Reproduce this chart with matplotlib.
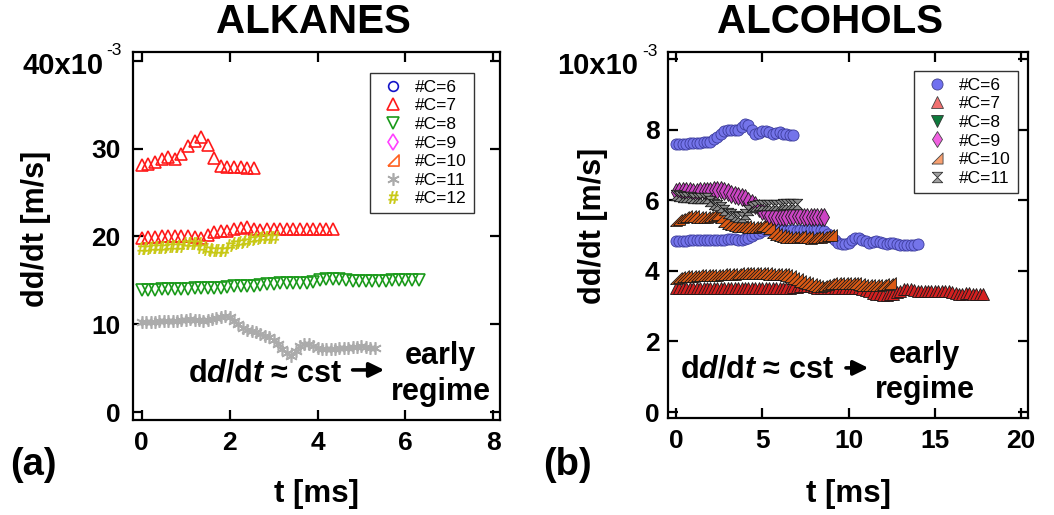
import numpy as np
import matplotlib
matplotlib.use("Agg")
import matplotlib.pyplot as plt
from matplotlib.lines import Line2D

plt.rcParams['font.family'] = ['Liberation Sans', 'DejaVu Sans']
plt.rcParams['mathtext.fontset'] = 'custom'
plt.rcParams['mathtext.rm'] = 'Liberation Sans:bold'
plt.rcParams['mathtext.it'] = 'Liberation Sans:italic:bold'
plt.rcParams['mathtext.bf'] = 'Liberation Sans:bold'

# ---- (a) alkanes, dd/dt in 1e-3 m/s ----
alk_c7a_dt = 0.15
alk_c7a = [28.1, 28.2, 28.5, 28.8, 29.0, 28.8, 29.4, 30.3, 30.9, 31.3, 30.4, 28.9,
           28.0, 27.9, 27.9, 27.9, 27.8, 27.8]
alk_c7b_dt = 0.15
alk_c7b = [19.8, 19.9, 19.9, 20.0, 20.0, 20.0, 20.1, 20.0, 19.9, 19.8, 20.2, 20.5,
           20.6, 20.6, 20.8, 21.0, 21.1, 20.9, 20.7, 20.8, 20.9, 20.8, 20.8, 20.9,
           20.8, 20.8, 20.9, 20.9, 20.8, 20.9]
alk_c8_dt = 0.15
alk_c8 = [13.9, 13.9, 13.9, 14.0, 14.0, 14.0, 14.0, 14.0, 14.1, 14.1, 14.1, 14.1,
          14.1, 14.2, 14.4, 14.4, 14.4, 14.4, 14.5, 14.6, 14.6, 14.7, 14.7, 14.7,
          14.7, 14.7, 14.8, 15.0, 15.1, 15.1, 15.1, 15.0, 14.9, 14.9, 14.9, 14.9,
          14.9, 14.9, 15.0, 15.0, 15.0, 15.0, 15.0]
alk_c11_dt = 0.1
alk_c11 = [10.3, 10.3, 10.3, 10.3, 10.4, 10.4, 10.4, 10.4, 10.4, 10.5, 10.5, 10.6,
           10.5, 10.5, 10.4, 10.5, 10.6, 10.7, 10.8, 10.9, 10.8, 10.4, 10.0, 9.6,
           9.3, 9.2, 9.1, 8.9, 8.7, 8.5, 8.2, 7.8, 7.2, 6.7, 6.4, 7.0, 7.5, 7.8,
           7.7, 7.5, 7.3, 7.2, 7.2, 7.2, 7.2, 7.3, 7.3, 7.3, 7.4, 7.4, 7.5, 7.4,
           7.3, 7.3]
alk_c12_dt = 0.125
alk_c12 = [18.7, 18.7, 18.8, 18.8, 18.8, 18.9, 18.9, 18.9, 19.2, 19.3, 19.2, 18.8,
           18.6, 18.4, 18.4, 18.5, 19.0, 19.3, 19.4, 19.5, 19.7, 19.8, 19.9, 19.9,
           19.9]

# ---- (b) alcohols, dd/dt in 1e-3 m/s, sampled every 0.2 ms ----
alc_dt = 0.2
alc_c6a = [7.6, 7.6, 7.6, 7.6, 7.62, 7.62, 7.63, 7.63, 7.64, 7.65, 7.66, 7.72,
           7.8, 7.88, 7.95, 8.0, 8.0, 7.98, 8.0, 8.08, 8.15, 8.12, 7.98, 7.88,
           7.9, 7.95, 7.96, 7.92, 7.88, 7.9, 7.92, 7.88, 7.86, 7.85, 7.85]
alc_c6b = [4.85, 4.85, 4.85, 4.85, 4.86, 4.86, 4.86, 4.87, 4.87, 4.88, 4.88, 4.87,
           4.87, 4.88, 4.88, 4.89, 4.9, 4.9, 4.88, 4.88, 4.9, 4.93, 4.98, 5.03,
           5.08, 5.12, 5.15, 5.17, 5.18, 5.18, 5.17, 5.15, 5.14, 5.15, 5.15, 5.14,
           5.15, 5.16, 5.17, 5.18, 5.18, 5.17, 5.15, 5.12, 5.05, 4.95, 4.87, 4.8,
           4.76, 4.76, 4.8, 4.88, 4.93, 4.93, 4.88, 4.83, 4.8, 4.82, 4.84, 4.82,
           4.78, 4.77, 4.8, 4.8, 4.75, 4.72, 4.72, 4.73, 4.74, 4.74, 4.75]
alc_c7 = [3.5] * 31 + [3.51, 3.52, 3.52, 3.53, 3.54,
          3.56, 3.58, 3.58, 3.57, 3.55, 3.52, 3.5, 3.5, 3.5, 3.5, 3.5, 3.5, 3.5,
          3.5, 3.5, 3.5, 3.5, 3.5, 3.49, 3.46, 3.42, 3.38, 3.35, 3.33, 3.32, 3.32,
          3.33, 3.35, 3.4, 3.44, 3.47, 3.48, 3.47, 3.45, 3.44, 3.43, 3.42, 3.42,
          3.42, 3.42, 3.43, 3.44, 3.44, 3.43, 3.4, 3.37, 3.35, 3.35, 3.36, 3.36,
          3.35, 3.35, 3.35, 3.35]
alc_c9 = [6.24, 6.25, 6.26, 6.26, 6.25, 6.24, 6.24, 6.25, 6.25, 6.26, 6.27, 6.28,
          6.3, 6.3, 6.27, 6.22, 6.17, 6.14, 6.12, 6.1, 6.05, 5.98, 5.92, 5.85,
          5.78, 5.7, 5.63, 5.58, 5.55, 5.53, 5.52, 5.52, 5.53, 5.54, 5.55, 5.55,
          5.54, 5.53, 5.52, 5.52, 5.52, 5.52, 5.52, 5.52]
alc_c10a = [5.45, 5.48, 5.52, 5.55, 5.55, 5.54, 5.53, 5.52, 5.52, 5.53, 5.55, 5.58,
            5.6, 5.52, 5.42, 5.35, 5.32, 5.3, 5.28, 5.27, 5.26, 5.25, 5.24, 5.25,
            5.28, 5.3, 5.28, 5.2, 5.1, 5.03, 5.0, 4.98, 4.96, 4.95, 4.95, 4.97,
            4.98, 4.97, 4.95, 4.94, 4.95, 4.96, 4.97, 4.98, 5.0, 5.0]
alc_c10b = [3.8, 3.82, 3.84, 3.85, 3.86, 3.86, 3.87, 3.87, 3.88, 3.88, 3.88, 3.89,
            3.89, 3.9, 3.9, 3.9, 3.91, 3.92, 3.93, 3.94, 3.95, 3.95, 3.95, 3.95,
            3.95, 3.94, 3.93, 3.92, 3.92, 3.92, 3.91, 3.9, 3.88, 3.85, 3.8, 3.76,
            3.72, 3.68, 3.66, 3.63, 3.6, 3.58, 3.58, 3.6, 3.62, 3.64, 3.65, 3.65,
            3.66, 3.66, 3.66, 3.65, 3.64, 3.62, 3.61, 3.6, 3.6, 3.6, 3.6, 3.61,
            3.62, 3.63, 3.64]
alc_c11 = [6.15, 6.12, 6.1, 6.1, 6.08, 6.06, 6.05, 6.05, 6.06, 6.05, 5.98, 5.9,
           5.85, 5.8, 5.72, 5.65, 5.6, 5.55, 5.52, 5.52, 5.6, 5.72, 5.8, 5.84,
           5.85, 5.86, 5.86, 5.85, 5.85, 5.86, 5.87, 5.88, 5.88, 5.88, 5.88, 5.88]

alk_labels = ['#C=6', '#C=7', '#C=8', '#C=9', '#C=10', '#C=11', '#C=12']
alc_labels = ['#C=6', '#C=7', '#C=8', '#C=9', '#C=10', '#C=11']


def times(vals, dt):
    return dt * np.arange(len(vals))


rtri = [(-1, -1), (1, -1), (1, 1), (-1, -1)]
hourglass = [(-1, 1), (1, 1), (-1, -1), (1, -1), (-1, 1)]

fig = plt.figure(figsize=(10.54, 5.15), dpi=100)
ax1 = fig.add_axes([0.1262, 0.1845, 0.348, 0.7145])
ax2 = fig.add_axes([0.6338, 0.1883, 0.3416, 0.711])

leg_kw = dict(fontsize=12.5, frameon=True, fancybox=False, edgecolor='black',
              borderpad=0.4, labelspacing=0.2, handletextpad=0.4, handlelength=1.8,
              borderaxespad=0)
arrow_kw = dict(arrowstyle='-|>,head_length=0.45,head_width=0.22', lw=2.6,
                color='black', shrinkA=0, shrinkB=0, mutation_scale=20)

# ---------- panel (a) ----------
open_kw = dict(ls='none', mfc='none', mew=1.2)
ax1.plot([], [], marker='o', color='#1414c8', ms=7, label=alk_labels[0], **open_kw)
ax1.plot(times(alk_c7a, alk_c7a_dt), alk_c7a, marker='^', color='#ff1a1a', ms=8.5,
         label=alk_labels[1], **open_kw)
ax1.plot(times(alk_c7b, alk_c7b_dt), alk_c7b, marker='^', color='#ff1a1a', ms=8.5,
         label='_nolegend_', **open_kw)
ax1.plot(times(alk_c8, alk_c8_dt), alk_c8, marker='v', color='#1a9a1a', ms=8.5,
         label=alk_labels[2], **open_kw)
ax1.plot([], [], marker='d', color='#ff40ff', ms=8, label=alk_labels[3], **open_kw)
ax1.plot([], [], marker=rtri, color='#ff6020', ms=8, label=alk_labels[4], **open_kw)
ax1.plot(times(alk_c11, alk_c11_dt), alk_c11, marker=(6, 2, 0), color='#ababab', ms=9,
         label=alk_labels[5], ls='none', mew=1.2)
ax1.plot(times(alk_c12, alk_c12_dt), alk_c12, marker='$\\#$', color='#c8c814', ms=9,
         label=alk_labels[6], ls='none', mew=0.3)

ax1.set_xlim(-0.2, 8.15)
ax1.set_ylim(-0.9, 41)
ax1.set_xticks([0, 2, 4, 6, 8])
ax1.set_yticks([0, 10, 20, 30, 40])
ax1.set_yticklabels(['0', '10', '20', '30', ''])
leg1 = ax1.legend(loc='upper right', bbox_to_anchor=(0.929, 0.944), **leg_kw)
leg1.get_frame().set_linewidth(1.0)

ax1.text(1.05, 3.5, r'd$\mathit{d}$/d$\mathit{t}$ ≈ cst', fontsize=22,
         fontweight='bold', ha='left', va='baseline')
ax1.annotate('', xy=(5.52, 4.8), xytext=(4.8, 4.8), arrowprops=arrow_kw)
ax1.text(6.8, 4.3, 'early\nregime', fontsize=22, fontweight='bold',
         ha='center', va='center', linespacing=1.25)

# ---------- panel (b) ----------
ekw = dict(ls='none', mec='#1a1a1a', mew=0.6)
ax2.plot(times(alc_c7, alc_dt), alc_c7, marker='^', mfc='#d42020', ms=8.5, **ekw)
ax2.plot(times(alc_c10b, alc_dt), alc_c10b, marker=rtri, mfc='#dc5a14', ms=8.5, **ekw)
ax2.plot(times(alc_c6b, alc_dt), alc_c6b, marker='o', mfc='#7474ea', ms=8,
         ls='none', mec='#3c3c9c', mew=0.6)
ax2.plot(times(alc_c10a, alc_dt), alc_c10a, marker=rtri, mfc='#dc5a14', ms=8.5, **ekw)
ax2.plot(times(alc_c9, alc_dt), alc_c9, marker='d', mfc='#cc44c4', ms=9, **ekw)
ax2.plot(times(alc_c11, alc_dt), alc_c11, marker=hourglass, mfc='#8c8c8c', ms=7.5, **ekw)
ax2.plot(times(alc_c6a, alc_dt), alc_c6a, marker='o', mfc='#7474ea', ms=8,
         ls='none', mec='#3c3c9c', mew=0.6)

alc_handles = [
    Line2D([], [], ls='none', marker='o', mfc='#7070f0', mec='#444488', mew=0.6, ms=8),
    Line2D([], [], ls='none', marker='^', mfc='#f07070', mec='#444444', mew=0.6, ms=8),
    Line2D([], [], ls='none', marker='v', mfc='#0e7a3c', mec='#333333', mew=0.6, ms=8),
    Line2D([], [], ls='none', marker='d', mfc='#f060e0', mec='#444444', mew=0.6, ms=8.5),
    Line2D([], [], ls='none', marker=rtri, mfc='#f8a070', mec='#444444', mew=0.6, ms=8),
    Line2D([], [], ls='none', marker=hourglass, mfc='#a0a0a0', mec='#333333', mew=0.6,
           ms=7.5),
]

ax2.set_xlim(-0.46, 20.4)
ax2.set_ylim(-0.17, 10.2)
ax2.set_xticks([0, 5, 10, 15, 20])
ax2.set_yticks([0, 2, 4, 6, 8, 10])
ax2.set_yticklabels(['0', '2', '4', '6', '8', ''])
leg2 = ax2.legend(alc_handles, alc_labels, loc='upper right',
                  bbox_to_anchor=(0.972, 0.949), **leg_kw)
leg2.get_frame().set_linewidth(1.0)

ax2.text(0.23, 0.97, r'd$\mathit{d}$/d$\mathit{t}$ ≈ cst', fontsize=22,
         fontweight='bold', ha='left', va='baseline')
ax2.annotate('', xy=(11.15, 1.25), xytext=(9.85, 1.25), arrowprops=arrow_kw)
ax2.text(14.4, 1.12, 'early\nregime', fontsize=22, fontweight='bold',
         ha='center', va='center', linespacing=1.25)

for ax, ypad in ((ax1, 9), (ax2, 6)):
    for sp in ax.spines.values():
        sp.set_linewidth(1.6)
    ax.tick_params(direction='in', top=True, right=True, length=7, width=1.6,
                   labelsize=19)
    ax.tick_params(axis='x', pad=8)
    ax.tick_params(axis='y', pad=ypad)
    for lab in ax.get_xticklabels() + ax.get_yticklabels():
        lab.set_fontweight('bold')

# top y-tick labels with the 10^-3 multiplier
ax1.text(-0.079, 0.962, '40x10', transform=ax1.transAxes, fontsize=21,
         fontweight='bold', ha='right', va='center')
ax1.text(-0.073, 1.003, '-3', transform=ax1.transAxes, fontsize=12.5,
         ha='left', va='center')
ax2.text(-0.083, 0.962, '10x10', transform=ax2.transAxes, fontsize=21,
         fontweight='bold', ha='right', va='center')
ax2.text(-0.071, 1.0, '-3', transform=ax2.transAxes, fontsize=12.5,
         ha='left', va='center')

fig.text(313 / 1054, 1 - 22 / 515, 'ALKANES', fontsize=29, fontweight='bold',
         ha='center', va='center')
fig.text(830 / 1054, 1 - 22 / 515, 'ALCOHOLS', fontsize=29, fontweight='bold',
         ha='center', va='center')
fig.text(317 / 1054, 1 - 494 / 515, 't [ms]', fontsize=22.5, fontweight='bold',
         ha='center', va='center')
fig.text(848 / 1054, 1 - 494 / 515, 't [ms]', fontsize=22.5, fontweight='bold',
         ha='center', va='center')
fig.text(36 / 1054, 1 - 229 / 515, 'dd/dt [m/s]', fontsize=22, fontweight='bold',
         ha='center', va='center', rotation=90)
fig.text(593 / 1054, 1 - 226 / 515, 'dd/dt [m/s]', fontsize=22, fontweight='bold',
         ha='center', va='center', rotation=90)
fig.text(33 / 1054, 1 - 465 / 515, '(a)', fontsize=27.5, fontweight='bold',
         ha='center', va='center')
fig.text(567 / 1054, 1 - 465 / 515, '(b)', fontsize=27.5, fontweight='bold',
         ha='center', va='center')

fig.savefig('out.png', dpi=100)
